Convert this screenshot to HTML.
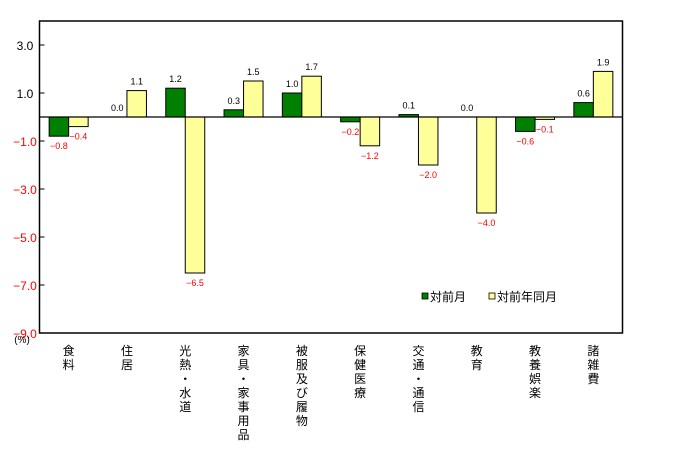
<!DOCTYPE html>
<html><head><meta charset="utf-8"><style>
html,body{margin:0;padding:0;background:#fff;}
svg{display:block;font-family:"Liberation Sans","Noto Sans CJK JP",sans-serif;}
</style></head><body>
<svg id="chart" width="676" height="463" viewBox="0 0 676 463" xmlns="http://www.w3.org/2000/svg"></svg>
<script>
const categories = [["食","料"],["住","居"],["光","熱","・","水","道"],["家","具","・","家","事","用","品"],["被","服","及","び","履","物"],["保","健","医","療"],["交","通","・","通","信"],["教","育"],["教","養","娯","楽"],["諸","雑","費"]];
const seriesMonth = [-0.8, 0.0, 1.2, 0.3, 1.0, -0.2, 0.1, 0.0, -0.6, 0.6];
const seriesYear = [-0.4, 1.1, -6.5, 1.5, 1.7, -1.2, -2.0, -4.0, -0.1, 1.9];
const yTicks = [3.0, 1.0, -1.0, -3.0, -5.0, -7.0, -9.0];
const yMin = -9, yMax = 4;

const svg = document.getElementById('chart');
const NS = 'http://www.w3.org/2000/svg';
const L = 39.5, R = 622.5, T = 21, B = 333;
const y = v => B - (v - yMin) / (yMax - yMin) * (B - T);
const cw = (R - L) / categories.length;
const cx = i => L + cw * (i + 0.5);
function mk(tag, attrs, parent) {
  const e = document.createElementNS(NS, tag);
  for (const k in attrs) e.setAttribute(k, attrs[k]);
  (parent || svg).appendChild(e);
  return e;
}
const fmt = v => (v < 0 ? '\u2212' + Math.abs(v).toFixed(1) : v.toFixed(1));

// frame
const frame = mk('rect', {x: L, y: T, width: R - L, height: B - T, fill: 'none', stroke: '#000', 'stroke-width': 1.5});



// ticks
yTicks.forEach(t => {
  const tk = mk('line', {x1: L, x2: L + 5, y1: y(t), y2: y(t), stroke: '#000'});
  
  
  const lb = mk('text', {x: 25, y: y(t) + 5, 'text-anchor': 'middle', 'font-size': 12, fill: t < 0 ? '#f00' : '#000'});
  lb.textContent = fmt(t);
  
  
});
const unit = mk('text', {x: 22, y: 343, 'text-anchor': 'middle', 'font-size': 10, fill: '#000'});
unit.textContent = '(%)';



const bw = 19.5;
function bar(i, v, off, color, name) {
  const x = cx(i) + off;
  if (v !== 0) {
    const r = mk('rect', {x: x, y: Math.min(y(v), y(0)), width: bw, height: Math.abs(y(v) - y(0)), fill: color, stroke: '#000', 'stroke-width': 1});
    
    
  }
  const t = mk('text', {x: x + bw / 2, y: v >= 0 ? y(v) - 6 : y(v) + 13, 'text-anchor': 'middle', 'font-size': 9, fill: v < 0 ? '#f00' : '#000'});
  t.textContent = fmt(v);
  
  
}
categories.forEach((c, i) => {
  bar(i, seriesMonth[i], -bw, '#008000', 'bar-month');
  bar(i, seriesYear[i], 0, '#ffff99', 'bar-year');
  c.forEach((ch, j) => {
    const t = mk('text', {x: cx(i), y: 355 + j * 14, 'text-anchor': 'middle', 'font-size': 12, fill: '#000'});
    t.textContent = ch;
    
    
  });
});

// zero line
const z = mk('line', {x1: L, x2: R, y1: y(0), y2: y(0), stroke: '#000', 'stroke-width': 1.2});



// legend
const lg = mk('g', {});


[[422, '#008000', '対前月'], [489, '#ffff99', '対前年同月']].forEach(([lx, col, txt]) => {
  const s = mk('rect', {x: lx, y: 293, width: 6, height: 6, fill: col, stroke: '#000', 'stroke-width': 0.8}, lg);
  
  
  const t = mk('text', {x: lx + 8, y: 301, 'font-size': 12, fill: '#000'}, lg);
  t.textContent = txt;
  
  
});
</script>
</body></html>
